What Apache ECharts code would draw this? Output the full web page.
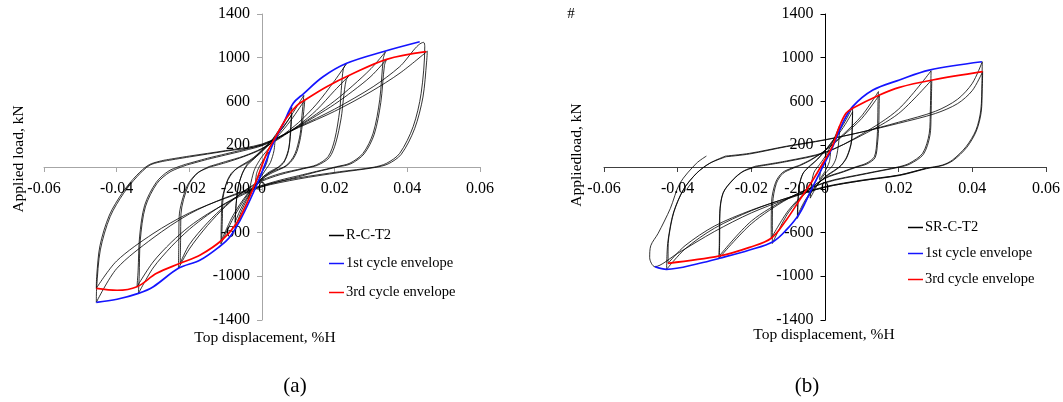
<!DOCTYPE html>
<html>
<head>
<meta charset="utf-8">
<script src="https://cdn.jsdelivr.net/npm/echarts@6/dist/echarts.min.js"></script>
<style>
html, body { margin: 0; padding: 0; background: #fff; }
#chart { width: 1063px; height: 402px; }
</style>
</head>
<body>
<div id="chart"></div>
<script>
// ---- Axis ranges (displacement in %H, load in kN) ----
const xRange = { min: -0.06, max: 0.06, step: 0.02 };
const yRange = { min: -1400, max: 1400, step: 400 };

// ---- Specimen R-C-T2: load-displacement cycles, [displacement, load] ----
const aCycle1 = [[-0.0008,0],[0,45],[0.001,95],[0.0018,135],[0.0015,60],[0.0008,0],[0,-45],[-0.001,-95],[-0.0018,-145],[-0.0015,-60],[-0.0008,0]];
const aCycle2 = [[-0.0016,10],[0,95],[0.002,175],[0.0036,255],[0.0033,150],[0.0023,40],[0.0012,-15],[0,-75],[-0.002,-175],[-0.0036,-285],[-0.0032,-170],[-0.0023,-45],[-0.0016,10]];
const aCycle3a = [[-0.004,20],[-0.002,80],[0,150],[0.003,260],[0.006,410],[0.0082,545],[0.0079,370],[0.0074,180],[0.0062,60],[0.0045,0],[0.002,-45],[0,-100],[-0.003,-230],[-0.0055,-390],[-0.0074,-560],[-0.0072,-380],[-0.0066,-190],[-0.0054,-60],[-0.004,20]];
const aCycle3b = [[-0.004,30],[-0.002,90],[0,160],[0.003,255],[0.006,370],[0.0082,480],[0.0079,320],[0.0073,150],[0.0061,45],[0.0045,-5],[0.002,-55],[0,-115],[-0.003,-225],[-0.0055,-360],[-0.0074,-505],[-0.0071,-330],[-0.0064,-160],[-0.0052,-40],[-0.004,30]];
const aCycle4a = [[-0.0062,0],[-0.003,60],[0,140],[0.004,285],[0.008,470],[0.0115,655],[0.011,470],[0.0105,300],[0.0095,160],[0.0086,90],[0.0072,30],[0.006,0],[0.003,-40],[0,-100],[-0.004,-255],[-0.008,-475],[-0.0113,-705],[-0.0112,-500],[-0.011,-300],[-0.0098,-150],[-0.0088,-85],[-0.0075,-30],[-0.0062,0]];
const aCycle4b = [[-0.0062,5],[-0.003,70],[0,150],[0.004,270],[0.008,430],[0.0118,615],[0.0112,420],[0.0106,270],[0.0096,140],[0.0085,70],[0.0071,20],[0.006,-5],[0.003,-50],[0,-110],[-0.004,-245],[-0.008,-445],[-0.0111,-668],[-0.0109,-470],[-0.0107,-280],[-0.0096,-130],[-0.0085,-60],[-0.0072,-20],[-0.0062,5]];
const aCycle5a = [[-0.0143,0],[-0.01,40],[-0.005,95],[0,165],[0.005,275],[0.01,405],[0.015,575],[0.02,790],[0.0233,948],[0.0224,900],[0.0218,700],[0.0214,520],[0.02,250],[0.0182,95],[0.015,20],[0.0113,-12],[0.005,-60],[0,-120],[-0.005,-220],[-0.01,-360],[-0.015,-535],[-0.02,-750],[-0.023,-928],[-0.0229,-700],[-0.0228,-455],[-0.0207,-180],[-0.0179,-58],[-0.0143,0]];
const aCycle5b = [[-0.0145,5],[-0.01,50],[-0.005,100],[0,170],[0.005,265],[0.01,380],[0.015,520],[0.02,700],[0.0242,843],[0.0232,800],[0.0224,620],[0.0218,450],[0.0203,220],[0.0185,85],[0.0152,15],[0.0115,-15],[0.005,-70],[0,-130],[-0.005,-225],[-0.01,-350],[-0.015,-510],[-0.02,-710],[-0.0225,-880],[-0.0224,-660],[-0.0223,-430],[-0.0203,-170],[-0.0177,-55],[-0.0145,5]];
const aCycle6a = [[-0.0207,18],[-0.015,70],[-0.01,110],[-0.005,150],[0,195],[0.005,275],[0.01,375],[0.015,485],[0.02,605],[0.025,745],[0.03,900],[0.034,1055],[0.0334,995],[0.0324,615],[0.0306,310],[0.0278,125],[0.0242,35],[0.0205,3],[0.015,-40],[0.01,-80],[0.005,-120],[0,-170],[-0.005,-240],[-0.01,-330],[-0.015,-440],[-0.02,-570],[-0.025,-730],[-0.03,-925],[-0.034,-1156],[-0.0338,-1000],[-0.0335,-670],[-0.0321,-365],[-0.0289,-150],[-0.0253,-45],[-0.0207,18]];
const aCycle6b = [[-0.021,25],[-0.015,80],[-0.01,120],[-0.005,160],[0,205],[0.005,280],[0.01,370],[0.015,470],[0.02,575],[0.025,695],[0.03,830],[0.0343,985],[0.0337,930],[0.0327,590],[0.0309,300],[0.0281,120],[0.0245,30],[0.0208,0],[0.015,-45],[0.01,-90],[0.005,-130],[0,-180],[-0.005,-250],[-0.01,-335],[-0.015,-430],[-0.02,-545],[-0.025,-690],[-0.03,-870],[-0.0344,-1095],[-0.0341,-950],[-0.0337,-640],[-0.0323,-350],[-0.0291,-140],[-0.0256,-35],[-0.021,25]];
const aCycle7a = [[-0.0262,58],[-0.02,92],[-0.01,145],[0,200],[0.01,365],[0.02,530],[0.0306,735],[0.0379,918],[0.0445,1140],[0.0448,1100],[0.0438,674],[0.0416,369],[0.0379,125],[0.0343,34],[0.0306,-3],[0.0214,-43],[0.01,-100],[0,-170],[-0.01,-280],[-0.02,-430],[-0.03,-650],[-0.04,-930],[-0.0456,-1238],[-0.0455,-1100],[-0.0445,-759],[-0.0418,-455],[-0.0381,-241],[-0.0344,-89],[-0.0308,18],[-0.0262,58]];
const aCycle7b = [[-0.0265,65],[-0.02,100],[-0.01,150],[0,210],[0.01,360],[0.02,510],[0.03,690],[0.038,860],[0.0455,1060],[0.0453,960],[0.0443,640],[0.042,350],[0.0383,115],[0.0347,28],[0.031,-5],[0.0214,-50],[0.01,-110],[0,-180],[-0.01,-285],[-0.02,-420],[-0.03,-610],[-0.04,-860],[-0.0456,-1110],[-0.0455,-1000],[-0.0446,-720],[-0.042,-440],[-0.0383,-230],[-0.0346,-80],[-0.031,22],[-0.0265,65]];
const aEnv1st = [[-0.0456,-1238],[-0.0399,-1210],[-0.034,-1156],[-0.0299,-1095],[-0.023,-927],[-0.017,-851],[-0.0115,-723],[-0.0088,-638],[-0.006,-485],[-0.0033,-302],[-0.0005,-89],[0.0031,217],[0.0059,400],[0.0086,583],[0.0114,670],[0.0168,826],[0.0233,949],[0.0333,1055],[0.0434,1146]];
const aEnv3rd = [[-0.0456,-1110],[-0.0399,-1128],[-0.0344,-1095],[-0.029,-973],[-0.0225,-881],[-0.017,-805],[-0.011,-668],[-0.007,-515],[-0.0042,-332],[-0.0015,-119],[0.0013,125],[0.004,290],[0.0068,450],[0.0095,560],[0.0118,613],[0.0178,735],[0.0242,842],[0.0343,985],[0.0452,1055]];

// ---- Specimen SR-C-T2 ----
const bCycle1 = [[-0.0007,0],[0,50],[0.0015,130],[0.0012,50],[0.0006,0],[0,-40],[-0.0015,-115],[-0.0012,-40],[-0.0007,0]];
const bCycle2 = [[-0.002,0],[0,95],[0.002,225],[0.004,380],[0.0037,220],[0.003,80],[0.002,10],[0,-60],[-0.002,-160],[-0.004,-285],[-0.0037,-160],[-0.003,-50],[-0.002,0]];
const bCycle3a = [[-0.004,10],[-0.002,70],[0,150],[0.003,285],[0.0055,420],[0.0075,548],[0.0074,400],[0.0072,240],[0.006,100],[0.0045,20],[0.003,-20],[0,-90],[-0.003,-200],[-0.0055,-330],[-0.0075,-470],[-0.0074,-330],[-0.007,-170],[-0.006,-60],[-0.004,10]];
const bCycle3b = [[-0.004,15],[-0.002,75],[0,150],[0.003,270],[0.0055,390],[0.0075,505],[0.0074,360],[0.0071,210],[0.0059,85],[0.0044,15],[0.003,-25],[0,-95],[-0.003,-195],[-0.0055,-310],[-0.0074,-440],[-0.0073,-310],[-0.0069,-160],[-0.0059,-55],[-0.004,15]];
const bCycle4a = [[-0.007,10],[-0.004,60],[0,150],[0.005,300],[0.01,470],[0.0145,690],[0.0144,600],[0.0143,400],[0.0141,247],[0.0134,94],[0.0112,34],[0.0085,3],[0.005,-40],[0,-100],[-0.005,-230],[-0.01,-420],[-0.0143,-700],[-0.0143,-600],[-0.0142,-332],[-0.0132,-149],[-0.0114,-58],[-0.0087,-12],[-0.007,10]];
const bCycle4b = [[-0.007,15],[-0.004,65],[0,150],[0.005,290],[0.01,445],[0.0148,660],[0.0147,570],[0.0146,380],[0.0143,230],[0.0136,85],[0.0114,28],[0.0087,0],[0.005,-45],[0,-105],[-0.005,-225],[-0.01,-400],[-0.0146,-652],[-0.0146,-560],[-0.0145,-315],[-0.0134,-140],[-0.0116,-52],[-0.0089,-8],[-0.007,15]];
const bCycle5a = [[-0.0186,3],[-0.0105,49],[0,130],[0.01,300],[0.02,530],[0.0288,880],[0.0287,700],[0.0286,521],[0.0283,308],[0.0265,125],[0.0229,34],[0.0202,3],[0.0112,-58],[0,-140],[-0.01,-290],[-0.02,-520],[-0.0288,-835],[-0.0287,-700],[-0.0286,-424],[-0.0277,-241],[-0.025,-119],[-0.0223,-43],[-0.0186,3]];
const bCycle5b = [[-0.0188,8],[-0.0105,55],[0,135],[0.01,290],[0.02,490],[0.029,798],[0.0289,650],[0.0288,480],[0.0285,290],[0.0267,115],[0.0231,28],[0.0204,0],[0.0112,-62],[0,-145],[-0.01,-285],[-0.02,-495],[-0.0287,-814],[-0.0286,-680],[-0.0285,-410],[-0.0276,-232],[-0.0249,-112],[-0.0222,-38],[-0.0188,8]];
const bCycle6a = [[-0.0268,94],[-0.0205,119],[-0.0105,186],[0,247],[0.01,320],[0.02,410],[0.03,510],[0.036,620],[0.04,766],[0.0427,963],[0.0426,766],[0.0423,521],[0.041,339],[0.0383,186],[0.0346,64],[0.0319,18],[0.0274,-12],[0.0202,-73],[0.01,-120],[0,-180],[-0.01,-280],[-0.02,-400],[-0.03,-560],[-0.038,-750],[-0.043,-936],[-0.0429,-800],[-0.0426,-668],[-0.0412,-424],[-0.0385,-210],[-0.0349,-58],[-0.0313,34],[-0.0268,94]];
const bCycle6b = [[-0.027,100],[-0.0205,125],[-0.0105,190],[0,250],[0.01,320],[0.02,400],[0.03,490],[0.036,580],[0.04,700],[0.0428,872],[0.0427,720],[0.0424,500],[0.0411,330],[0.0385,180],[0.0348,60],[0.032,15],[0.0276,-15],[0.0202,-78],[0.01,-125],[0,-185],[-0.01,-282],[-0.02,-395],[-0.03,-540],[-0.038,-720],[-0.0426,-881],[-0.0426,-760],[-0.0424,-640],[-0.041,-410],[-0.0383,-200],[-0.0347,-52],[-0.0311,38],[-0.027,100]];
const bFinal = [[0.0274,-12],[0.02,-75],[0.01,-125],[0,-185],[-0.01,-290],[-0.02,-420],[-0.03,-590],[-0.04,-790],[-0.0462,-912],[-0.0476,-830],[-0.0473,-720],[-0.0453,-607],[-0.042,-380],[-0.0394,-149],[-0.0349,34],[-0.0322,100]];
const bEnv1st = [[-0.0462,-912],[-0.043,-936],[-0.034,-881],[-0.0286,-835],[-0.0205,-759],[-0.0141,-683],[-0.0105,-576],[-0.0069,-424],[-0.0042,-241],[-0.0015,-58],[0.0021,186],[0.0048,400],[0.0075,552],[0.013,704],[0.0202,796],[0.0283,887],[0.0426,963]];
const bEnv3rd = [[-0.0426,-881],[-0.0286,-814],[-0.0205,-735],[-0.0146,-652],[-0.0105,-485],[-0.0069,-302],[-0.0033,-119],[-0.0006,34],[0.002,190],[0.0039,369],[0.0057,491],[0.0075,537],[0.0148,659],[0.0202,729],[0.0292,796],[0.0428,872]];

const aCycles = [aCycle1, aCycle2, aCycle3a, aCycle3b, aCycle4a, aCycle4b, aCycle5a, aCycle5b, aCycle6a, aCycle6b, aCycle7a, aCycle7b];
const bCycles = [bCycle1, bCycle2, bCycle3a, bCycle3b, bCycle4a, bCycle4b, bCycle5a, bCycle5b, bCycle6a, bCycle6b, bFinal];

const FONT = '"Liberation Serif", "Times New Roman", serif';
const grids = [
  { left: 44, top: 14, width: 436, height: 306 },
  { left: 604, top: 14, width: 443, height: 306 }
];

// Axes cross at the origin: shift each axis from the grid edge to the zero line.
function zeroOffsetX(g) { return -g.height * (0 - yRange.min) / (yRange.max - yRange.min); }
function zeroOffsetY(g) { return -g.width * (0 - xRange.min) / (xRange.max - xRange.min); }

function xAxisFor(i, color) {
  return {
    gridIndex: i, type: 'value', position: 'bottom', offset: zeroOffsetX(grids[i]),
    min: xRange.min, max: xRange.max, interval: xRange.step,
    axisLine: { onZero: false, lineStyle: { color: color, width: 1 } },
    axisTick: { show: true, inside: false, length: 5, lineStyle: { color: color } },
    axisLabel: { color: '#000', fontFamily: FONT, fontSize: 16, margin: 14,
                 formatter: v => String(Math.round(v * 100) / 100) },
    splitLine: { show: false }
  };
}
function yAxisFor(i, color) {
  return {
    gridIndex: i, type: 'value', position: 'left', offset: zeroOffsetY(grids[i]),
    min: yRange.min, max: yRange.max, interval: yRange.step,
    axisLine: { onZero: false, lineStyle: { color: color, width: 1 } },
    axisTick: { show: true, inside: false, length: 5, lineStyle: { color: color } },
    axisLabel: { color: '#000', fontFamily: FONT, fontSize: 16, margin: 12,
                 formatter: v => String(Math.round(v)) },
    splitLine: { show: false }
  };
}
function cycleSeries(data, name, idx) {
  return {
    type: 'line', name: name, data: data, xAxisIndex: idx, yAxisIndex: idx,
    symbol: 'none', smooth: 0.3, silent: true, z: 2,
    lineStyle: { color: '#000', width: 0.8 }, itemStyle: { color: '#000' }
  };
}
function envelopeSeries(data, name, idx, color, z) {
  return {
    type: 'line', name: name, data: data, xAxisIndex: idx, yAxisIndex: idx,
    symbol: 'none', smooth: 0.35, silent: true, z: z,
    lineStyle: { color: color, width: 1.7 }, itemStyle: { color: color }
  };
}
function legendItem(name, left, centerY) {
  return {
    data: [name], left: left, top: centerY - 8, padding: 0, icon: 'rect',
    itemWidth: 15, itemHeight: 1.5, itemGap: 0, selectedMode: false,
    textStyle: { fontFamily: FONT, fontSize: 14.5, color: '#000', padding: [0, 0, 0, -3] }
  };
}
function label(text, x, y, size, rot) {
  return {
    type: 'text', x: x, y: y, rotation: rot || 0, silent: true,
    style: { text: text, font: size + 'px ' + FONT, fill: '#000',
             align: 'center', verticalAlign: 'middle', textAlign: 'center', textVerticalAlign: 'middle' }
  };
}

const series = [];
aCycles.forEach(c => series.push(cycleSeries(c, 'R-C-T2', 0)));
series.push(envelopeSeries(aEnv1st, '1st cycle envelope', 0, '#1414ff', 3));
series.push(envelopeSeries(aEnv3rd, '3rd cycle envelope', 0, '#ff0000', 4));
bCycles.forEach(c => series.push(cycleSeries(c, 'SR-C-T2', 1)));
series.push(envelopeSeries(bEnv1st, '1st cycle envelope', 1, '#1414ff', 3));
series.push(envelopeSeries(bEnv3rd, '3rd cycle envelope', 1, '#ff0000', 4));

const chart = echarts.init(document.getElementById('chart'), null, { renderer: 'canvas' });
chart.setOption({
  backgroundColor: '#ffffff',
  animation: false,
  grid: grids,
  xAxis: [xAxisFor(0, '#a6a6a6'), xAxisFor(1, '#404040')],
  yAxis: [yAxisFor(0, '#a6a6a6'), yAxisFor(1, '#000000')],
  legend: [
    legendItem('R-C-T2', 329, 236),
    legendItem('1st cycle envelope', 329, 264),
    legendItem('3rd cycle envelope', 329, 293),
    legendItem('SR-C-T2', 908, 228),
    legendItem('1st cycle envelope', 908, 254),
    legendItem('3rd cycle envelope', 908, 280)
  ],
  series: series,
  graphic: [
    label('Applied load, kN', 18.5, 159, 15.5, Math.PI / 2),
    label('Top displacement, %H', 265, 338, 15.5),
    label('(a)', 295, 386, 21),
    label('Appliedload, kN', 577, 155, 15.5, Math.PI / 2),
    label('Top displacement, %H', 824, 335, 15.5),
    label('(b)', 807, 386, 21),
    label('#', 571, 14, 15)
  ]
});
</script>
</body>
</html>
